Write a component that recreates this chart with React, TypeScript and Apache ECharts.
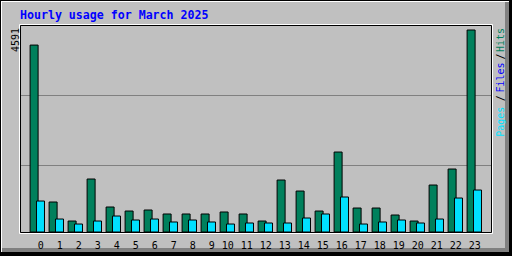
import React, { useEffect, useRef } from 'react';
import * as echarts from 'echarts';

const hours: string[] = ['0','1','2','3','4','5','6','7','8','9','10','11','12','13','14','15','16','17','18','19','20','21','22','23'];
const hits: number[] = [4250, 701, 271, 1221, 588, 497, 520, 430, 430, 430, 475, 430, 271, 1198, 949, 497, 1831, 565, 565, 407, 271, 1085, 1447, 4591];
const pages: number[] = [723, 316, 203, 271, 384, 294, 316, 249, 294, 249, 203, 226, 226, 226, 339, 430, 814, 203, 249, 294, 226, 316, 791, 972];
const titleText = 'Hourly usage for March 2025';
const maxLabel = '4591';

const MONO = '"DejaVu Sans Mono", "Liberation Mono", monospace';
const GREEN = '#00805C';
const CYAN = '#00E0FF';
const BLUE = '#0000FF';

export default function App() {
  const ref = useRef<HTMLDivElement>(null);
  useEffect(() => {
    if (!ref.current) return;
    const chart = echarts.init(ref.current, null, { renderer: 'svg' });
    const dataMax = Math.max(...hits);
    const yMax = (dataMax * 207) / 203;
    const rect = (x: number, y: number, w: number, h: number, fill: string, z = 0) => ({
      type: 'rect', z, silent: true, shape: { x, y, width: w, height: h }, style: { fill },
    });
    const txt = (text: string, x: number, y: number, fill: string, rot = 0, extra: any = {}) => ({
      type: 'text', x, y, rotation: rot, z: 5, silent: true,
      style: { text, fill, fontFamily: MONO, fontSize: 10, align: 'center', verticalAlign: 'middle', ...extra },
    });
    chart.setOption({
      animation: false,
      backgroundColor: '#C0C0C0',
      grid: [
        { left: 20.5, right: 20.5, top: 25.5, height: 210, show: false },
        { left: 27.8, right: 28.2, top: 25.5, height: 207, show: false },
      ],
      xAxis: [
        { gridIndex: 0, type: 'value', min: 0, max: 1, show: false },
        {
          gridIndex: 1, type: 'category', data: hours, boundaryGap: true,
          axisLine: { show: false }, axisTick: { show: false },
          axisLabel: {
            interval: 0, margin: 8,
            formatter: (v: string) => `{a|${v}}`,
            rich: { a: { width: 13, align: 'right', fontFamily: MONO, fontSize: 10, color: '#000' } },
          },
        },
      ],
      yAxis: [
        {
          gridIndex: 0, type: 'value', min: 0, max: 3, interval: 1,
          axisLine: { show: false }, axisTick: { show: false }, axisLabel: { show: false },
          splitLine: { show: true, showMinLine: false, showMaxLine: false, lineStyle: { color: '#808080', width: 1 } },
        },
        {
          gridIndex: 1, type: 'value', min: 0, max: yMax,
          axisLine: { show: false }, axisTick: { show: false }, axisLabel: { show: false },
          splitLine: { show: false },
        },
      ],
      series: [
        {
          name: 'Hits', type: 'bar', xAxisIndex: 1, yAxisIndex: 1, data: hits,
          barWidth: 9, barGap: '-29%',
          itemStyle: { color: GREEN, borderColor: '#000', borderWidth: 1 },
        },
        {
          name: 'Pages', type: 'bar', xAxisIndex: 1, yAxisIndex: 1, data: pages,
          barWidth: 9, barGap: '-29%',
          itemStyle: { color: CYAN, borderColor: '#000', borderWidth: 1 },
        },
      ],
      graphic: {
        elements: [
          // outer bevel frame
          rect(0, 0, 512, 1, '#000'),
          rect(0, 0, 1, 256, '#000'),
          rect(509, 0, 3, 256, '#000'),
          rect(0, 252, 512, 4, '#000'),
          rect(1, 1, 508, 1, '#FFFFFF'),
          rect(1, 1, 1, 251, '#FFFFFF'),
          rect(505, 2, 4, 250, '#808080'),
          rect(2, 248, 507, 4, '#808080'),
          // plot frame
          {
            type: 'rect', z: 3, silent: true,
            shape: { x: 19.5, y: 24.5, width: 473, height: 209 },
            style: { fill: null, stroke: '#FFFFFF', lineWidth: 1 },
          },
          {
            type: 'rect', z: 3, silent: true,
            shape: { x: 20.5, y: 25.5, width: 471, height: 207 },
            style: { fill: null, stroke: '#000000', lineWidth: 1 },
          },
          // title
          {
            type: 'text', x: 20, y: 15, z: 5, silent: true,
            style: {
              text: titleText, fill: BLUE, fontFamily: MONO, fontWeight: 'bold', fontSize: 11.6,
              align: 'left', verticalAlign: 'middle',
            },
          },
          // y max label
          txt(maxLabel, 15.2, 40, '#000', Math.PI / 2),
          // legend (rotated)
          txt('Hits', 500, 40, GREEN, Math.PI / 2),
          txt('/', 500, 56.5, '#000', Math.PI / 2),
          txt('Files', 500, 77.5, BLUE, Math.PI / 2),
          txt('/', 500, 98.3, '#000', Math.PI / 2),
          txt('Pages', 500, 121.7, CYAN, Math.PI / 2),
        ],
      },
    });
    return () => chart.dispose();
  }, []);
  return (
    <div
      ref={ref}
      style={{ position: 'fixed', left: 0, top: 0, width: 512, height: 256 }}
    />
  );
}
